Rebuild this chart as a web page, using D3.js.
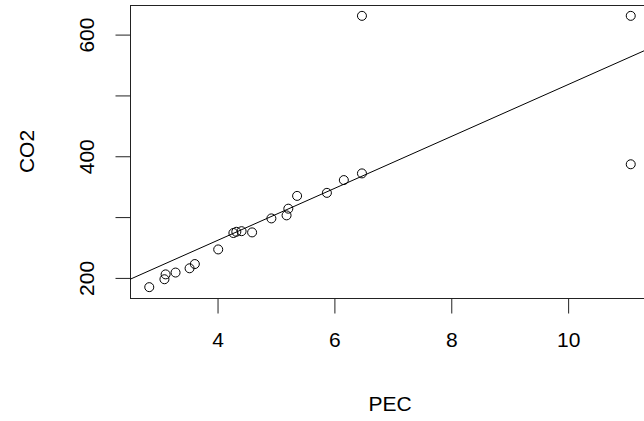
<!DOCTYPE html>
<html>
<head>
<meta charset="utf-8">
<script src="https://cdn.jsdelivr.net/npm/d3@7"></script>
<style>
  html, body { margin: 0; padding: 0; background: #fff; }
  svg { display: block; }
  text { font-family: "Liberation Sans", Arial, sans-serif; fill: #000; }
</style>
</head>
<body>
<script>
// Data
const pec = [2.84, 3.10, 3.12, 3.29, 3.53, 3.62, 4.02, 4.28, 4.33, 4.42, 4.60, 4.93, 5.19, 5.22, 5.37, 5.88, 6.17, 6.48, 6.48, 11.08, 11.08];
const co2 = [184, 197, 205, 208, 215, 222, 246, 273, 275, 276, 274, 297, 302, 313, 334, 339, 360, 371, 630, 630, 386];
const xTicks = [4, 6, 8, 10];
const yTicks = [200, 300, 400, 500, 600];
const yTickLabels = ["200", "", "400", "", "600"];
const fitLine = [89.7, 42.7]; // intercept, slope
const xLabel = "PEC";
const yLabel = "CO2";

const W = 644, H = 421;
const mLeft = 130, mRight = 650, mTop = 5, mBottom = 298;
const fs = 21;

const svg = d3.select("body").append("svg").attr("width", W).attr("height", H);

// R-style 4% extended ranges
const xr = d3.extent(pec), yr = d3.extent(co2);
const xpad = (xr[1] - xr[0]) * 0.04, ypad = (yr[1] - yr[0]) * 0.04;
const x = d3.scaleLinear().domain([xr[0] - xpad, xr[1] + xpad]).range([mLeft, mRight]);
const y = d3.scaleLinear().domain([yr[0] - ypad, yr[1] + ypad]).range([mBottom, mTop]);

svg.append("defs").append("clipPath").attr("id", "plotclip")
  .append("rect").attr("x", mLeft).attr("y", mTop).attr("width", mRight - mLeft).attr("height", mBottom - mTop);

// Box
svg.append("rect")
  .attr("x", mLeft + 0.5).attr("y", mTop + 0.5)
  .attr("width", mRight - mLeft).attr("height", mBottom - mTop)
  .attr("fill", "none").attr("stroke", "#222").attr("stroke-width", 1);

// X axis
const xAxis = d3.axisBottom(x).tickValues(xTicks).tickSize(15).tickPadding(19)
  .tickFormat(d3.format("d"));
const gx = svg.append("g").attr("transform", `translate(0.5,${mBottom + 0.5})`).call(xAxis);
gx.select(".domain").remove();
gx.selectAll(".tick line").attr("stroke", "#222");
gx.selectAll("text").attr("font-size", fs).attr("fill", "#111");

// Y axis
const yAxis = d3.axisLeft(y).tickValues(yTicks).tickSize(15).tickPadding(0)
  .tickFormat((d, i) => yTickLabels[i]);
const gy = svg.append("g").attr("transform", `translate(${mLeft + 0.5},0.5)`).call(yAxis);
gy.select(".domain").remove();
gy.selectAll(".tick line").attr("stroke", "#222");
gy.selectAll("text")
  .attr("font-size", fs).attr("fill", "#111")
  .attr("x", null).attr("dy", null)
  .attr("text-anchor", "middle")
  .attr("transform", "translate(-44,0) rotate(-90)")
  .attr("dy", "0.35em");

// Axis titles
svg.append("text").attr("x", 390).attr("y", 411)
  .attr("text-anchor", "middle").attr("font-size", fs).attr("fill", "#111").text(xLabel);
svg.append("text").attr("transform", `translate(34,${(mTop + mBottom) / 2}) rotate(-90)`)
  .attr("text-anchor", "middle").attr("font-size", fs).attr("fill", "#111").text(yLabel);

// Fit line
const xd = x.domain();
svg.append("line")
  .attr("clip-path", "url(#plotclip)")
  .attr("x1", x(xd[0])).attr("y1", y(fitLine[0] + fitLine[1] * xd[0]))
  .attr("x2", x(xd[1])).attr("y2", y(fitLine[0] + fitLine[1] * xd[1]))
  .attr("stroke", "#000").attr("stroke-width", 1);

// Points
svg.append("g").selectAll("circle").data(pec.map((v, i) => [v, co2[i]])).join("circle")
  .attr("cx", d => x(d[0])).attr("cy", d => y(d[1])).attr("r", 4.5)
  .attr("fill", "none").attr("stroke", "#000").attr("stroke-width", 1);
</script>
</body>
</html>
